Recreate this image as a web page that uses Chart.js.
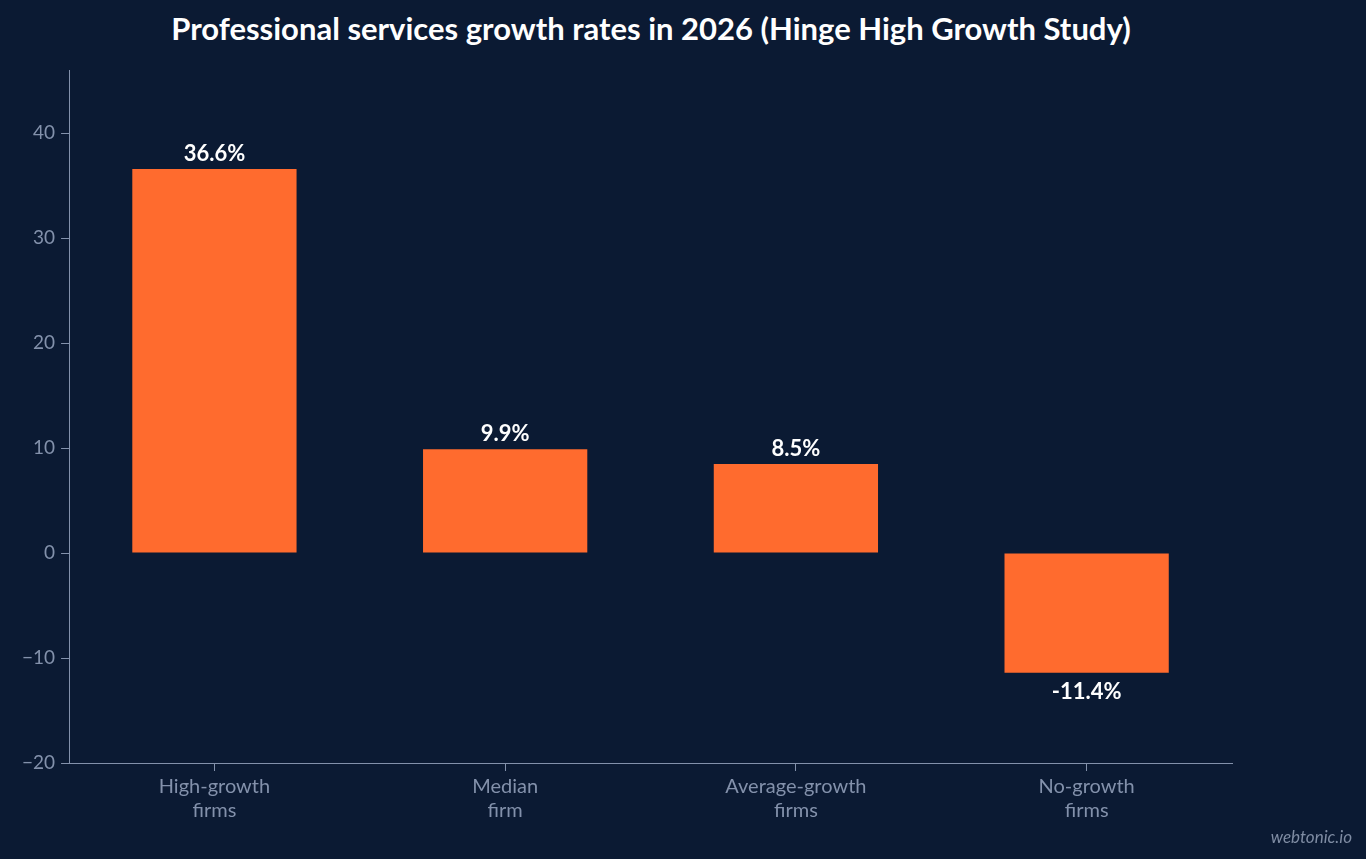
<!DOCTYPE html>
<html lang="en">
<head>
<meta charset="UTF-8">
<title>Professional services growth rates</title>
<script src="https://cdn.jsdelivr.net/npm/chart.js"></script>
<style>
  * { margin: 0; padding: 0; box-sizing: border-box; }
  body { background: #0b1a33; width: 1366px; height: 859px; overflow: hidden; font-family: Lato, sans-serif; }
  h1 { position: absolute; left: 0; top: 9px; width: 1302px; text-align: center; color: #fff; font-size: 31px; font-weight: bold; }
  #wrap { position: absolute; left: 0; top: 53px; width: 1366px; height: 806px; }
  .mark { position: absolute; right: 14px; bottom: 12px; color: #7f8ca3; font-style: italic; font-size: 17px; }
</style>
</head>
<body>
<h1>Professional services growth rates in 2026 (Hinge High Growth Study)</h1>
<div id="wrap"><canvas id="chart"></canvas></div>
<div class="mark">webtonic.io</div>
<script>
  const categories = [['High-growth', 'firms'], ['Median', 'firm'], ['Average-growth', 'firms'], ['No-growth', 'firms']];
  const growth = [36.6, 9.9, 8.5, -11.4];
  const yTicks = [-20, -10, 0, 10, 20, 30, 40];

  const axisColor = '#8391ab';

  // value labels above positive bars, below negative ones
  const valueLabels = {
    id: 'valueLabels',
    afterDatasetsDraw(chart) {
      const ctx = chart.ctx;
      const meta = chart.getDatasetMeta(0);
      ctx.save();
      ctx.font = 'bold 22px Lato';
      ctx.fillStyle = '#ffffff';
      ctx.textAlign = 'center';
      meta.data.forEach((bar, i) => {
        const v = growth[i];
        ctx.textBaseline = v >= 0 ? 'bottom' : 'top';
        ctx.fillText(v.toFixed(1) + '%', bar.x, v >= 0 ? bar.y - 4 : bar.y + 8);
      });
      ctx.restore();
    }
  };

  new Chart(document.getElementById('chart'), {
    type: 'bar',
    data: {
      labels: categories,
      datasets: [{ data: growth, backgroundColor: '#ff6b2e', categoryPercentage: 1, barPercentage: 0.565 }]
    },
    options: {
      responsive: true,
      maintainAspectRatio: false,
      animation: false,
      layout: { padding: { left: 16, right: 134, top: 0, bottom: 32 } },
      plugins: {
        legend: { display: false },
        tooltip: { enabled: false }
      },
      scales: {
        x: {
          grid: { display: true, drawOnChartArea: false, offset: false, color: axisColor, tickLength: 8 },
          border: { color: axisColor },
          ticks: { color: axisColor, font: { family: 'Lato', size: 20 }, padding: 4 }
        },
        y: {
          min: -20,
          max: 46,
          afterBuildTicks(axis) { axis.ticks = yTicks.map(v => ({ value: v })); },
          grid: { display: true, drawOnChartArea: false, color: axisColor, tickLength: 8 },
          border: { color: axisColor },
          ticks: {
            color: axisColor,
            font: { family: 'Lato', size: 19 },
            padding: 6,
            callback: v => v < 0 ? '\u2212' + Math.abs(v) : v
          }
        }
      }
    },
    plugins: [valueLabels]
  });
</script>
</body>
</html>
